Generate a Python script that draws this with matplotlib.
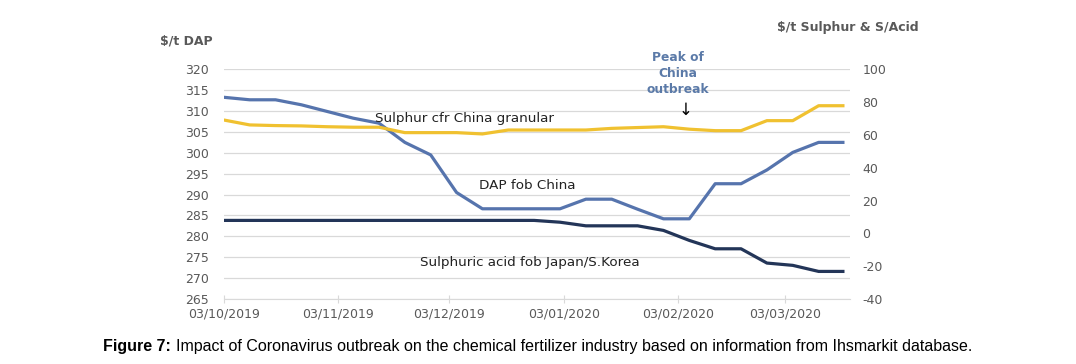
import matplotlib
matplotlib.use("Agg")
import matplotlib.pyplot as plt
import pandas as pd

# weekly prices, 03/10/2019 .. 19/03/2020
dates = pd.date_range("2019-10-03", periods=25, freq="7D")

dap = [313.3, 312.7, 312.7, 311.5, 309.9, 308.3, 307.1, 302.5, 299.5,
       290.5, 286.6, 286.6, 286.6, 286.6, 288.9, 288.9, 286.5, 284.2,
       284.2, 292.6, 292.6, 295.9, 300.1, 302.5, 302.5]

sulphur = [69.1, 66.1, 65.7, 65.5, 65.0, 64.7, 64.7, 61.4, 61.4, 61.4,
           60.6, 63.0, 63.0, 63.0, 63.0, 64.0, 64.5, 65.0, 63.5, 62.6,
           62.6, 68.7, 68.7, 77.8, 77.8]

acid = [7.9, 7.9, 7.9, 7.9, 7.9, 7.9, 7.9, 7.9, 7.9, 7.9, 7.9, 7.9, 7.9,
        6.8, 4.6, 4.6, 4.6, 1.8, -4.3, -9.4, -9.4, -18.1, -19.5, -23.2,
        -23.2]

date_ticks = pd.to_datetime(["2019-10-03", "2019-11-03", "2019-12-03",
                             "2020-01-03", "2020-02-03", "2020-03-03"])
date_labels = ["03/10/2019", "03/11/2019", "03/12/2019",
               "03/01/2020", "03/02/2020", "03/03/2020"]

BLUE = "#5674ad"
YELLOW = "#f0c130"
NAVY = "#233558"
GREY = "#595959"
CAPTION_FONT = ["Liberation Sans Narrow", "Liberation Sans", "DejaVu Sans"]

plt.rcParams["font.family"] = ["DejaVu Sans"]
plt.rcParams["axes.unicode_minus"] = False

fig = plt.figure(figsize=(10.76, 3.64), dpi=100)
ax = fig.add_axes([0.208, 0.1786, 0.582, 0.631])
ax2 = ax.twinx()

ax.plot(dates, dap, color=BLUE, lw=2.3, solid_capstyle="butt", zorder=3)
ax2.plot(dates, sulphur, color=YELLOW, lw=2.3, solid_capstyle="butt")
ax2.plot(dates, acid, color=NAVY, lw=2.3, solid_capstyle="butt")

ax.set_ylim(265, 320)
ax.set_yticks(range(265, 321, 5))
ax2.set_ylim(-40, 100)
ax2.set_yticks(range(-40, 101, 20))
ax.set_xlim(pd.Timestamp("2019-10-03"), pd.Timestamp("2020-03-20 12:00"))
ax.set_xticks(date_ticks)
ax.set_xticklabels(date_labels)

ax.grid(axis="y", color="#d9d9d9", lw=0.9)
ax.set_axisbelow(True)
for a in (ax, ax2):
    for s in ("top", "left", "right", "bottom"):
        a.spines[s].set_visible(False)
ax.spines["bottom"].set_visible(True)
ax.spines["bottom"].set_color("#d9d9d9")

ax.tick_params(axis="y", length=0, pad=11, labelsize=9, labelcolor=GREY)
ax2.tick_params(axis="y", length=0, pad=9, labelsize=9, labelcolor=GREY)
ax.tick_params(axis="x", direction="inout", length=6, color="#d9d9d9",
               pad=3, labelsize=9, labelcolor=GREY)

# axis titles
fig.text(0.149, 0.888, "$/t DAP", fontsize=9, color=GREY,
         fontweight="bold", ha="left", va="center")
fig.text(0.722, 0.925, "$/t Sulphur & S/Acid", fontsize=9, color=GREY,
         fontweight="bold", ha="left", va="center")

# series labels
ax.text(pd.Timestamp("2019-11-13"), 308.3, "Sulphur cfr China granular",
        fontsize=9.7, color="#222222", va="center", zorder=5)
ax.text(pd.Timestamp("2019-12-11"), 292.1, "DAP fob China",
        fontsize=9.7, color="#222222", va="center", zorder=5)
ax.text(pd.Timestamp("2019-11-25"), 273.7, "Sulphuric acid fob Japan/S.Korea",
        fontsize=9.7, color="#222222", va="center", zorder=5)

ax.text(pd.Timestamp("2020-02-03"), 318.9, "Peak of\nChina\noutbreak",
        fontsize=8.8, color="#5b7aa8", fontweight="bold", ha="center",
        va="center", linespacing=1.3, clip_on=False, zorder=5)
ax.text(pd.Timestamp("2020-02-05"), 310.3, "\u2193", fontsize=12,
        color="black", ha="center", va="center", zorder=5)

# caption
fig.text(0.096, 0.048, "Figure 7:", fontsize=11.5, fontweight="bold",
         family=CAPTION_FONT, ha="left", va="center")
fig.text(0.164, 0.048,
         "Impact of Coronavirus outbreak on the chemical fertilizer industry "
         "based on information from Ihsmarkit database.",
         fontsize=11.5, family=CAPTION_FONT, ha="left", va="center")

fig.savefig("out.png", dpi=100)
